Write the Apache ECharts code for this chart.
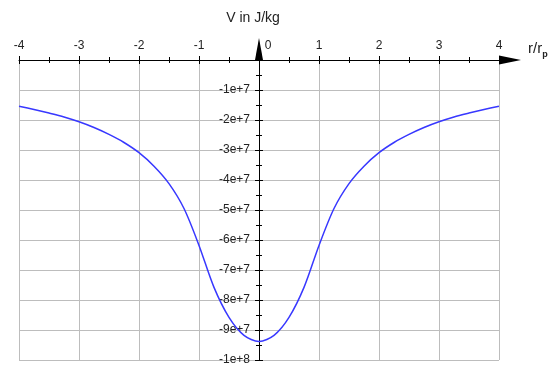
<!DOCTYPE html>
<html>
<head>
<meta charset="utf-8">
<script src="https://cdn.jsdelivr.net/npm/echarts@6/dist/echarts.min.js"></script>
<style>
    html, body {margin: 0; padding: 0; background: #fff;}
    #chart {width: 553px; height: 365px;}
</style>
</head>
<body>
<div id="chart"></div>
<script>
// r / r_p
const radius = [-4, -3.75, -3.5, -3.25, -3, -2.75, -2.5, -2.25, -2, -1.75, -1.5, -1.25, -1, -0.75, -0.5, -0.25,
    0, 0.25, 0.5, 0.75, 1, 1.25, 1.5, 1.75, 2, 2.25, 2.5, 2.75, 3, 3.25, 3.5, 3.75, 4];
// V in J/kg
const potential = [-1.54e7, -1.65e7, -1.77e7, -1.90e7, -2.06e7, -2.25e7, -2.48e7, -2.75e7, -3.09e7, -3.54e7,
    -4.12e7, -4.95e7, -6.18e7, -7.58e7, -8.58e7, -9.18e7,
    -9.38e7, -9.18e7, -8.58e7, -7.58e7, -6.18e7, -4.95e7, -4.12e7, -3.54e7, -3.09e7, -2.75e7, -2.48e7,
    -2.25e7, -2.06e7, -1.90e7, -1.77e7, -1.65e7, -1.54e7];

const font = "'Liberation Sans', Arial, sans-serif";
const chart = echarts.init(document.getElementById('chart'));

// y axis sits at r = 0: grid left 19 + 4 units * 60px
const yOffset = -240;

const xBase = {
    type: 'value', min: -4, max: 4, interval: 1, position: 'top',
    axisLine: {onZero: false, lineStyle: {color: '#000', width: 1}},
    minorTick: {show: true, splitNumber: 2, length: 3, lineStyle: {color: '#000'}},
    axisTick: {length: 4, lineStyle: {color: '#000'}},
};
const yBase = {
    type: 'value', min: -1e8, max: 0, interval: 1e7, position: 'left', offset: yOffset,
    axisLine: {onZero: false, lineStyle: {color: '#000', width: 1}},
    minorTick: {show: true, splitNumber: 2, length: 3, lineStyle: {color: '#000'}},
    axisTick: {length: 4, lineStyle: {color: '#000'}},
};

const option = {
    animation: false,
    grid: {left: 19, right: 54, top: 60, bottom: 5, containLabel: false, outerBoundsMode: 'none'},
    xAxis: [
        Object.assign({}, xBase, {
            name: 'r/r{sub|p}',
            nameLocation: 'end',
            nameGap: 29,
            nameTextStyle: {
                fontFamily: font, fontSize: 15, color: '#222', verticalAlign: 'bottom', padding: [0, 0, 4, 0],
                rich: {sub: {fontFamily: font, fontSize: 9, fontWeight: 'bold', color: '#222', verticalAlign: 'bottom', padding: [0, 0, -3, 0]}}
            },
            axisLine: {onZero: false, symbol: ['none', 'triangle'], symbolSize: [9, 22], symbolOffset: [0, 11],
                lineStyle: {color: '#000', width: 1}},
            axisLabel: {
                show: true, margin: 8, fontFamily: font, fontSize: 12, color: '#222',
                showMinLabel: true, showMaxLabel: true,
                formatter: v => v === 0 ? '{z|0}' : String(v),
                rich: {z: {fontFamily: font, fontSize: 12, color: '#222', padding: [0, 0, 0, 18]}}
            },
            splitLine: {show: true, lineStyle: {color: '#bdbdbd', width: 1}}
        }),
        Object.assign({}, xBase, {
            axisLine: {show: false, onZero: false},
            axisTick: {inside: true, length: 4, lineStyle: {color: '#000'}},
            axisLabel: {show: false},
            splitLine: {show: false}
        })
    ],
    yAxis: [
        Object.assign({}, yBase, {
            name: 'V in J/kg',
            nameLocation: 'end',
            nameGap: 35,
            nameTextStyle: {fontFamily: font, fontSize: 14, color: '#222', padding: [0, 12, 0, 0]},
            axisLine: {onZero: false, symbol: ['none', 'triangle'], symbolSize: [8, 22],
                symbolOffset: [0, 11], lineStyle: {color: '#000', width: 1}},
            axisLabel: {
                show: true, margin: 9, fontFamily: font, fontSize: 12, color: '#222',
                showMinLabel: true, showMaxLabel: true,
                formatter: v => v === 0 ? '' : (v === -1e8 ? '-1e+8' : '-' + Math.round(-v / 1e7) + 'e+7')
            },
            splitLine: {show: true, lineStyle: {color: '#bdbdbd', width: 1}}
        }),
        Object.assign({}, yBase, {
            axisLine: {show: false, onZero: false},
            axisTick: {inside: true, length: 4, lineStyle: {color: '#000'}},
            axisLabel: {show: false},
            splitLine: {show: false}
        })
    ],
    series: [{
        type: 'line',
        xAxisIndex: 0,
        yAxisIndex: 0,
        data: radius.map((r, i) => [r, potential[i]]),
        smooth: 0.3,
        showSymbol: false,
        lineStyle: {color: '#3838ff', width: 1.5}
    }]
};
chart.setOption(option);
</script>
</body>
</html>
